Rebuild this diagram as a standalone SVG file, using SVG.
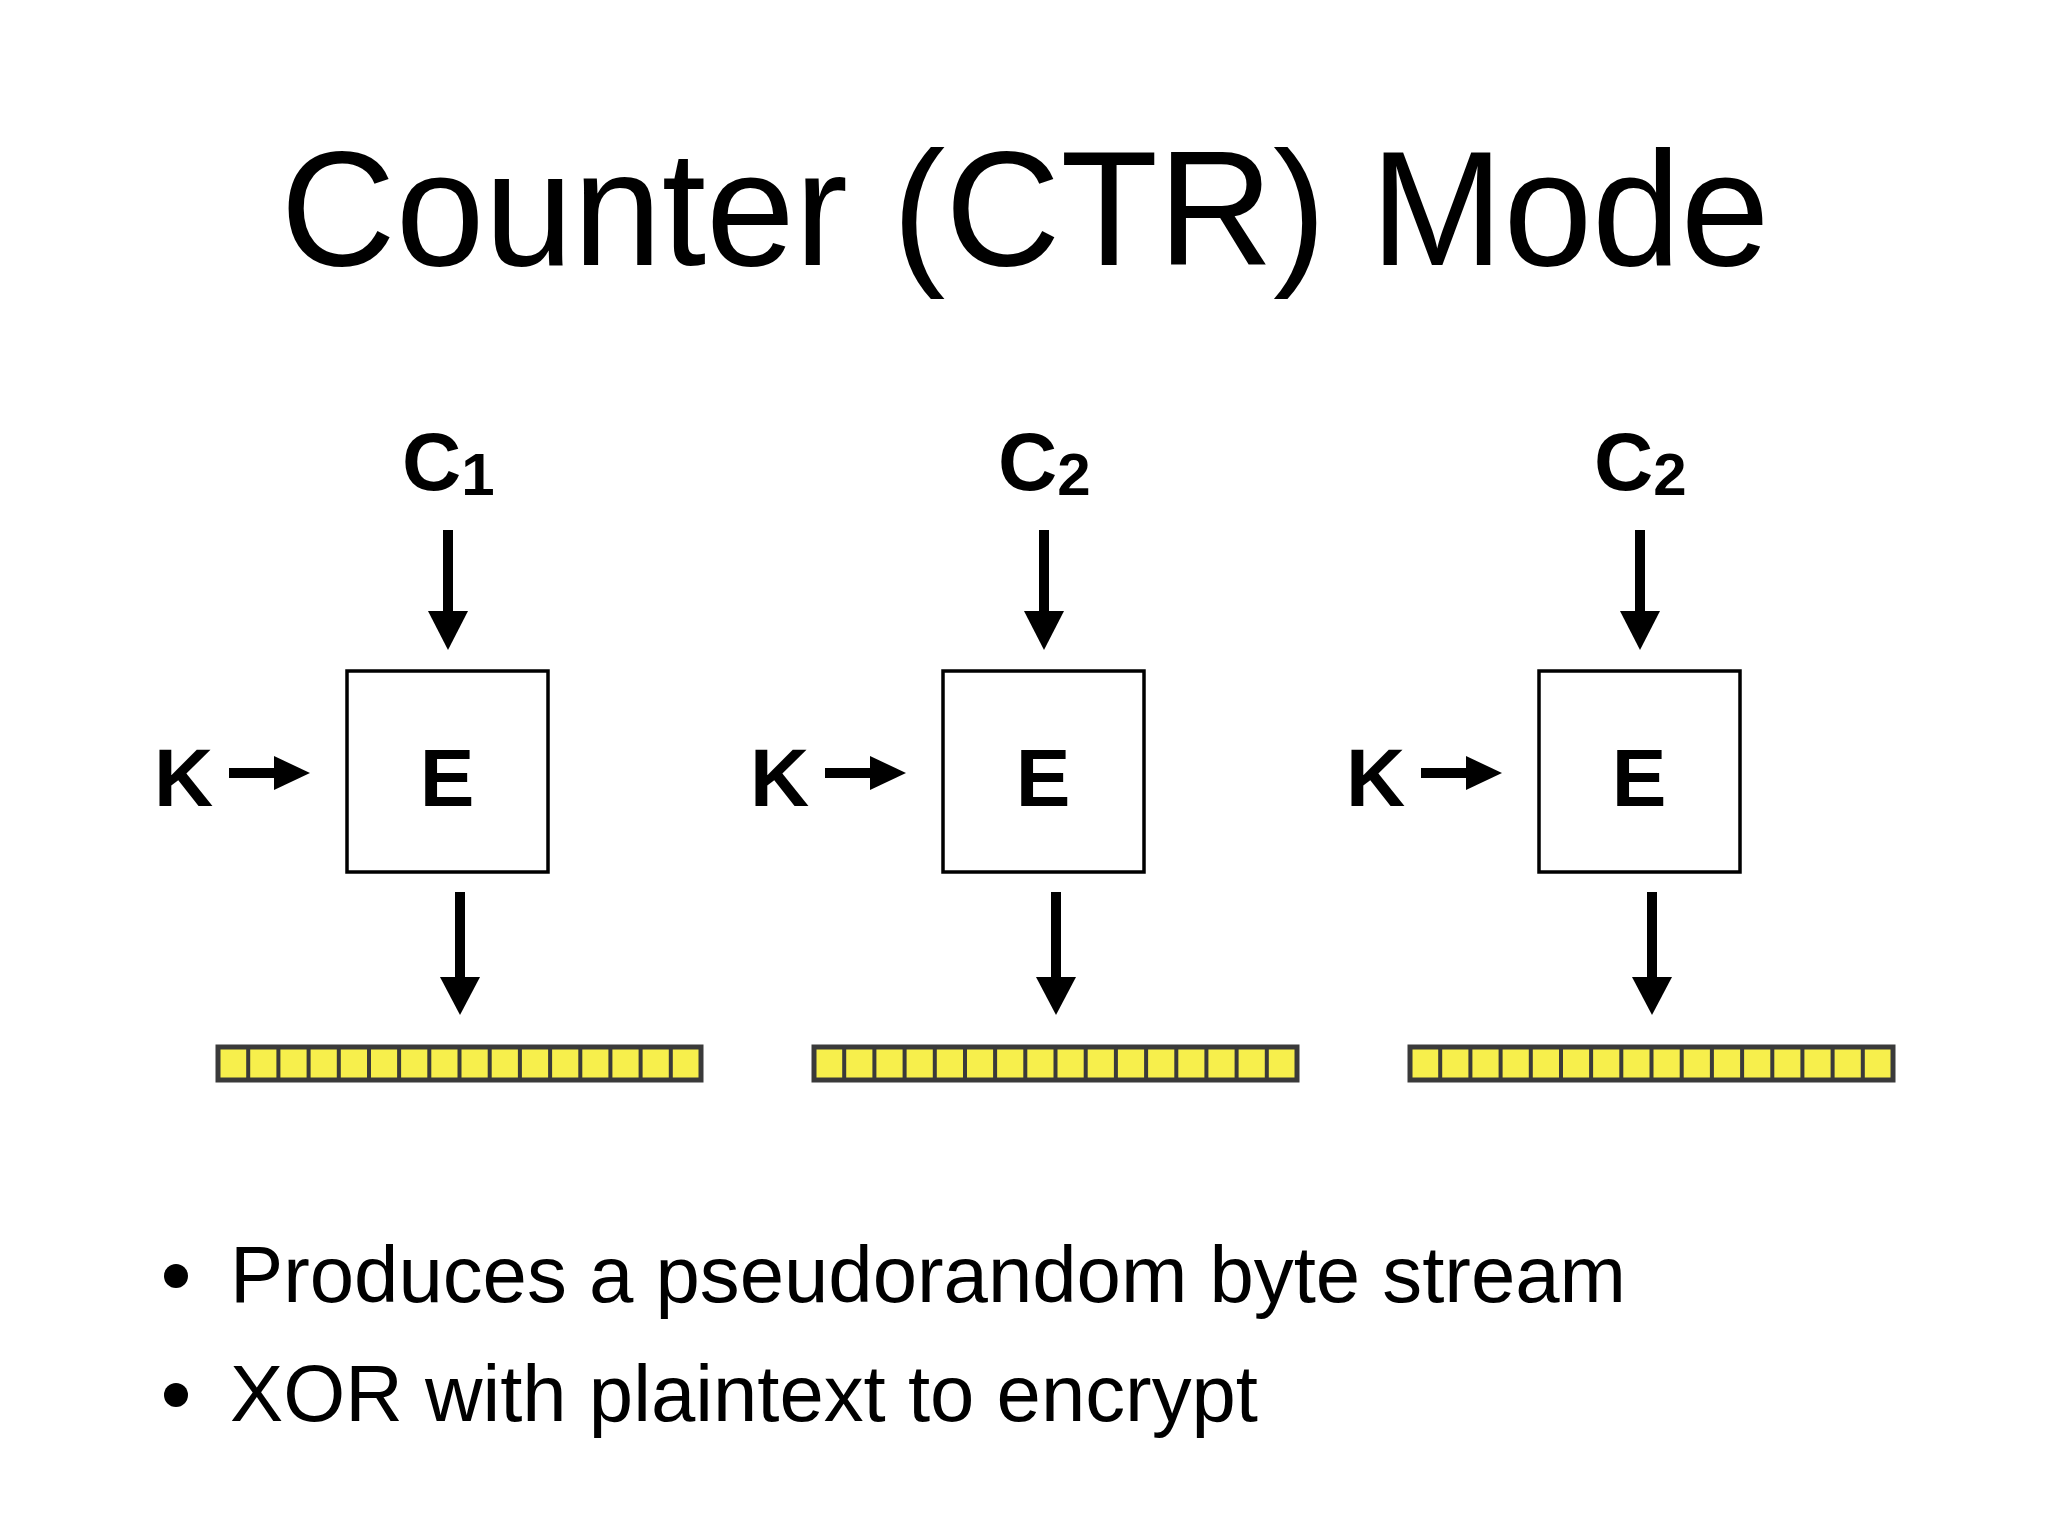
<svg xmlns="http://www.w3.org/2000/svg" width="2048" height="1536" viewBox="0 0 2048 1536">
<defs>
<style>
.t{font-family:"Liberation Sans",Arial,sans-serif;fill:#000}
.b{font-family:"Liberation Sans",Arial,sans-serif;font-weight:bold;fill:#000}
.box{fill:#fff;stroke:#000;stroke-width:3.5}
.ln{stroke:#000;stroke-width:10;fill:none}
</style>
<g id="bar">
<rect x="0" y="0" width="483" height="33" fill="#f7ef4c" stroke="#3a3a3a" stroke-width="5"/>
<path d="M30.2 0V33M60.4 0V33M90.6 0V33M120.8 0V33M151 0V33M181.1 0V33M211.3 0V33M241.5 0V33M271.7 0V33M301.9 0V33M332.1 0V33M362.3 0V33M392.4 0V33M422.6 0V33M452.8 0V33" stroke="#3a3a3a" stroke-width="4"/>
</g>
</defs>
<rect width="2048" height="1536" fill="#fff"/>
<text class="t" x="1025" y="265" font-size="163" text-anchor="middle" textLength="1489" lengthAdjust="spacingAndGlyphs">Counter (CTR) Mode</text>

<g id="connectors">
<g id="c1">
<path class="ln" d="M448 530V615"/><polygon points="428,611 468,611 448,650"/>
<path class="ln" d="M229 773H278"/><polygon points="274,756 310,773 274,790"/>
<path class="ln" d="M460 892V980"/><polygon points="440,977 480,977 460,1015"/>
</g>
<g id="c2" transform="translate(596,0)">
<path class="ln" d="M448 530V615"/><polygon points="428,611 468,611 448,650"/>
<path class="ln" d="M229 773H278"/><polygon points="274,756 310,773 274,790"/>
<path class="ln" d="M460 892V980"/><polygon points="440,977 480,977 460,1015"/>
</g>
<g id="c3" transform="translate(1192,0)">
<path class="ln" d="M448 530V615"/><polygon points="428,611 468,611 448,650"/>
<path class="ln" d="M229 773H278"/><polygon points="274,756 310,773 274,790"/>
<path class="ln" d="M460 892V980"/><polygon points="440,977 480,977 460,1015"/>
</g>
</g>

<g id="node1">
<text class="b" x="402" y="490" font-size="82">C<tspan font-size="60" dy="5">1</tspan></text>
<text class="b" x="154" y="806" font-size="82">K</text>
<rect class="box" x="347" y="671" width="201" height="201"/>
<text class="b" x="447" y="806" font-size="82" text-anchor="middle">E</text>
<use href="#bar" x="218" y="1047"/>
</g>
<g id="node2">
<text class="b" x="998" y="490" font-size="82">C<tspan font-size="60" dy="5">2</tspan></text>
<text class="b" x="750" y="806" font-size="82">K</text>
<rect class="box" x="943" y="671" width="201" height="201"/>
<text class="b" x="1043" y="806" font-size="82" text-anchor="middle">E</text>
<use href="#bar" x="814" y="1047"/>
</g>
<g id="node3">
<text class="b" x="1594" y="490" font-size="82">C<tspan font-size="60" dy="5">2</tspan></text>
<text class="b" x="1346" y="806" font-size="82">K</text>
<rect class="box" x="1539" y="671" width="201" height="201"/>
<text class="b" x="1639" y="806" font-size="82" text-anchor="middle">E</text>
<use href="#bar" x="1410" y="1047"/>
</g>

<g id="bullets">
<circle cx="176" cy="1276" r="12"/>
<text class="t" x="230" y="1302" font-size="80" textLength="1396" lengthAdjust="spacingAndGlyphs">Produces a pseudorandom byte stream</text>
<circle cx="176" cy="1395" r="12"/>
<text class="t" x="230" y="1421" font-size="80" textLength="1028" lengthAdjust="spacingAndGlyphs">XOR with plaintext to encrypt</text>
</g>
</svg>
